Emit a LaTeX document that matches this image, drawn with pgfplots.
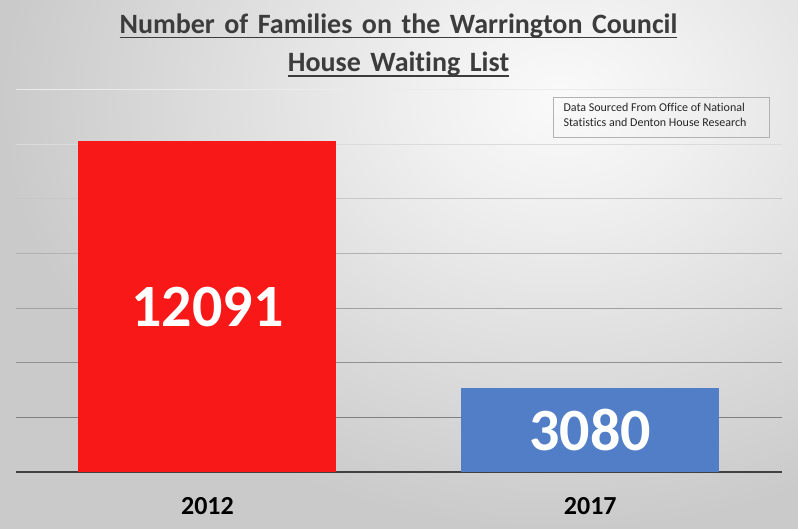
\documentclass[border=0pt]{standalone}
\usepackage{pgfplots}
\pgfplotsset{compat=1.18}
\usepackage{pgfplotstable}
\usepackage{fontspec}
\setmainfont{Carlito}[Ligatures=NoCommon]
\definecolor{barred}{RGB}{248,24,24}
\definecolor{barblue}{RGB}{81,126,199}
\definecolor{titlegray}{RGB}{60,60,60}
\definecolor{axisgray}{RGB}{64,64,64}
\definecolor{boxgray}{RGB}{178,178,178}
\definecolor{bgA}{RGB}{250,250,250}
\definecolor{bgB}{RGB}{240,240,240}
\definecolor{bgC}{RGB}{224,224,224}
\definecolor{bgD}{RGB}{202,202,202}
\pgfdeclareradialshading{bgshade}{\pgfpoint{0bp}{0bp}}{color(0bp)=(bgA); color(6bp)=(bgB); color(14bp)=(bgC); color(25bp)=(bgD); color(50bp)=(bgD)}
\newcommand\ul[1]{\setbox0\hbox{#1}\rlap{\rule[-5.2pt]{\wd0}{1.9pt}}\box0}
\pgfplotstableread{
x y
0 12091
}\tabA
\pgfplotstableread{
x y
1 3080
}\tabB
\pgfplotstableread{
x y label
0 12091 12091
1 3080 3080
}\tabL
\begin{document}
\begin{tikzpicture}[x=1pt,y=1pt]
\useasboundingbox (0,0) rectangle (798,528);
\fill[bgD] (0,0) rectangle (798,528);
\begin{scope}
\clip (0,0) rectangle (798,528);
\shade[shading=bgshade] (0,-2) rectangle (1120,858);
\end{scope}
\node[anchor=base, inner sep=0, font=\fontsize{28}{30}\selectfont\bfseries, text=titlegray] at (398.5,494.7) {\spaceskip=0.34em\ul{Number of Families on the Warrington Council}};
\node[anchor=base, inner sep=0, font=\fontsize{28}{30}\selectfont\bfseries, text=titlegray] at (398.5,456.3) {\spaceskip=0.34em\ul{House Waiting List}};
\draw[boxgray, line width=0.8pt] (553.3,430.7) rectangle (769.3,390.7);
\node[anchor=base west, inner sep=0, font=\fontsize{12}{15}\selectfont, text=black!85] at (563.3,416.3) {Data Sourced From Office of National};
\node[anchor=base west, inner sep=0, font=\fontsize{12}{15}\selectfont, text=black!85] at (563.3,401.3) {Statistics and Denton House Research};
\begin{axis}[
  at={(16pt,56.3pt)}, anchor=south west,
  scale only axis, width=765.7pt, height=382.4pt,
  xmin=-0.5, xmax=1.5, ymin=0, ymax=14000,
  xtick={0,1}, xticklabels={2012,2017},
  ytick=\empty,
  axis x line*=bottom, axis y line*=left,
  y axis line style={draw=none},
  x axis line style={draw=axisgray, line width=2pt},
  xtick style={draw=none},
  xticklabel style={font=\fontsize{26}{30}\selectfont\bfseries, text=black, yshift=-22pt},
  bar width=258pt,
  clip=false,
]
\draw[black!50] (axis cs:-0.5,2000) -- (axis cs:1.5,2000);
\draw[black!44] (axis cs:-0.5,4000) -- (axis cs:1.5,4000);
\draw[black!37] (axis cs:-0.5,6000) -- (axis cs:1.5,6000);
\draw[black!30] (axis cs:-0.5,8000) -- (axis cs:1.5,8000);
\draw[black!22] (axis cs:-0.5,10000) -- (axis cs:1.5,10000);
\draw[black!14] (axis cs:-0.5,12000) -- (axis cs:1.5,12000);
\draw[black!8] (axis cs:-0.5,14000) -- (axis cs:1.5,14000);
\addplot[ybar, bar shift=0pt, fill=barred, draw=none] table[x=x, y=y] {\tabA};
\addplot[ybar, bar shift=0pt, fill=barblue, draw=none] table[x=x, y=y] {\tabB};
\addplot[draw=none, mark=none, y filter/.expression={y/2},
  point meta=explicit symbolic,
  nodes near coords,
  every node near coord/.style={anchor=center, inner sep=0pt, text=white, font=\fontsize{60}{60}\selectfont\bfseries}]
  table[x=x, y=y, meta=label] {\tabL};
\end{axis}
\end{tikzpicture}
\end{document}
